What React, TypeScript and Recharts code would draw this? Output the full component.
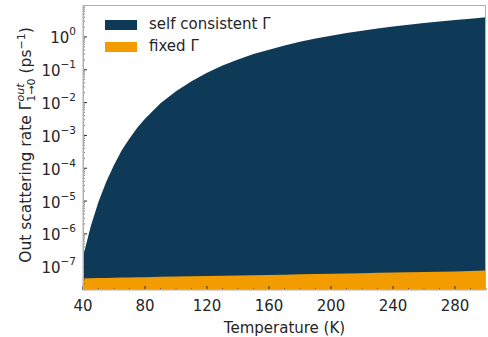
import React from "react";
import { Area, AreaChart, Legend, XAxis, YAxis } from "recharts";

const temperatures = [
  40, 45, 50, 55, 60, 65, 70, 75, 80, 90, 100, 110, 120, 130, 140, 150, 160, 170, 180, 190, 200, 210,
  220, 230, 240, 250, 260, 270, 280, 290, 300,
];

// Γ_out 1→0 (ps^-1)
const selfConsistent = [
  2.0e-7, 1.7e-6, 9.5e-6, 3.9e-5, 1.26e-4, 3.5e-4, 8.1e-4, 1.7e-3, 3.2e-3, 9.5e-3, 2.2e-2, 4.5e-2,
  8.1e-2, 0.135, 0.205, 0.3, 0.41, 0.55, 0.71, 0.89, 1.08, 1.31, 1.54, 1.8, 2.08, 2.35, 2.65, 2.95, 3.3,
  3.6, 4.0,
];

const fixedGamma = [
  4.4e-8, 4.45e-8, 4.5e-8, 4.55e-8, 4.6e-8, 4.65e-8, 4.7e-8, 4.75e-8, 4.8e-8, 4.9e-8, 5.0e-8, 5.1e-8,
  5.2e-8, 5.3e-8, 5.4e-8, 5.5e-8, 5.6e-8, 5.7e-8, 5.85e-8, 5.95e-8, 6.1e-8, 6.2e-8, 6.35e-8, 6.5e-8,
  6.6e-8, 6.75e-8, 6.9e-8, 7.05e-8, 7.2e-8, 7.4e-8, 7.6e-8,
];

const xTicks = [40, 50, 60, 70, 80, 90, 100, 110, 120, 130, 140, 150, 160, 170, 180, 190, 200, 210, 220, 230, 240, 250, 260, 270, 280, 290, 300];
const xLabels = [40, 80, 120, 160, 200, 240, 280];

const yMajor = [1e-7, 1e-6, 1e-5, 1e-4, 1e-3, 1e-2, 1e-1, 1];
const yDomain: [number, number] = [1.95e-8, 9.4];

const legendItems = ["self consistent Γ", "fixed Γ"];

const SELF_COLOR = "#0e3a58";
const FIXED_COLOR = "#f39c00";
const TEXT = "#262626";
const FONT = "DejaVu Sans";

const data = temperatures.map((t, i) => ({
  t,
  self: selfConsistent[i],
  fixed: fixedGamma[i],
}));

// major + minor ticks for the log axis
const yTicks: number[] = [];
for (let e = -8; e <= 0; e++) {
  for (let m = 1; m <= 9; m++) {
    const v = Number((m * Math.pow(10, e)).toPrecision(3));
    if (v >= yDomain[0] && v <= yDomain[1]) yTicks.push(v);
  }
}

const Y_MARGIN = 7;
const X_MARGIN = 6;

function YTick(props: any) {
  const { x, y, payload } = props;
  const v = payload.value as number;
  const exp = Math.round(Math.log10(v));
  const major = yMajor.some((m) => Math.abs(v / m - 1) < 1e-6);
  const ax = x + Y_MARGIN;
  return (
    <g>
      <line x1={ax} x2={ax + (major ? 4 : 2)} y1={y} y2={y} stroke={TEXT} strokeWidth={major ? 1 : 0.6} />
      {major && (
        <text x={x} y={y} dy={6.5} textAnchor="end" fill={TEXT} fontSize={15} fontFamily={FONT}>
          10
          <tspan dy={-8} fontSize={10.5}>
            {exp === 0 ? "0" : "\u2212" + Math.abs(exp)}
          </tspan>
        </text>
      )}
    </g>
  );
}

function XTick(props: any) {
  const { x, y, payload } = props;
  const v = payload.value as number;
  const major = xLabels.includes(v);
  const ay = y - X_MARGIN;
  return (
    <g>
      <line x1={x} x2={x} y1={ay} y2={ay - (major ? 4 : 2)} stroke={TEXT} strokeWidth={major ? 1 : 0.6} />
      {major && (
        <text x={x} y={y} dy={15} textAnchor="middle" fill={TEXT} fontSize={15} fontFamily={FONT}>
          {v}
        </text>
      )}
    </g>
  );
}

function YLabel() {
  return (
    <text
      transform="translate(31,145) rotate(-90)"
      textAnchor="middle"
      fill={TEXT}
      fontSize={15.5}
      fontFamily={FONT}
    >
      Out scattering rate Γ
      <tspan dy={4} fontSize={11}>1→0</tspan>
      <tspan dx={-23} dy={-11.5} fontSize={11} fontStyle="italic">out</tspan>
      <tspan dx={5} dy={7.5}> (ps</tspan>
      <tspan dy={-6.5} fontSize={11}>−1</tspan>
      <tspan dy={6.5}>)</tspan>
    </text>
  );
}

function LegendBox() {
  const colors = [SELF_COLOR, FIXED_COLOR];
  return (
    <svg width={200} height={44} style={{ display: "block" }}>
      {legendItems.map((label, i) => (
        <g key={label} transform={`translate(0,${i * 22})`}>
          <rect x={0} y={6} width={32} height={10} fill={colors[i]} />
          <text x={44} y={15} fill={TEXT} fontSize={15} fontFamily={FONT}>
            {label}
          </text>
        </g>
      ))}
    </svg>
  );
}

export default function App() {
  return (
    <div style={{ position: "absolute", left: 0, top: 0, width: 488, height: 337 }}>
      <AreaChart width={488} height={337} data={data} margin={{ top: 5, right: 2, bottom: 0, left: 0 }}>
        <XAxis
          dataKey="t"
          type="number"
          domain={[40, 300]}
          ticks={xTicks}
          interval={0}
          tick={<XTick />}
          tickSize={0}
          tickMargin={X_MARGIN}
          height={47}
          axisLine={{ stroke: "#b0b0b0" }}
          label={{ value: "Temperature (K)", position: "insideBottom", offset: 4, fill: TEXT, fontSize: 15, fontFamily: FONT }}
        />
        <YAxis
          scale="log"
          domain={yDomain}
          allowDataOverflow
          ticks={yTicks}
          interval={0}
          tick={<YTick />}
          tickSize={0}
          tickMargin={Y_MARGIN}
          width={83}
          axisLine={{ stroke: "#b0b0b0" }}
          label={<YLabel />}
        />
        <Legend
          layout="vertical"
          align="center"
          verticalAlign="middle"
          content={<LegendBox />}
          wrapperStyle={{ top: 14, left: 105, width: 200, margin: 0, padding: 0 }}
        />
        <Area
          type="linear"
          dataKey="self"
          name="self consistent Γ"
          stroke="none"
          fill={SELF_COLOR}
          fillOpacity={1}
          isAnimationActive={false}
        />
        <Area
          type="linear"
          dataKey="fixed"
          name="fixed Γ"
          stroke="none"
          fill={FIXED_COLOR}
          fillOpacity={1}
          isAnimationActive={false}
        />
      </AreaChart>
      <div
        style={{
          position: "absolute",
          left: 83,
          top: 5,
          width: 403,
          height: 285,
          boxSizing: "border-box",
          border: "1px solid #b0b0b0",
          pointerEvents: "none",
        }}
      />
    </div>
  );
}
